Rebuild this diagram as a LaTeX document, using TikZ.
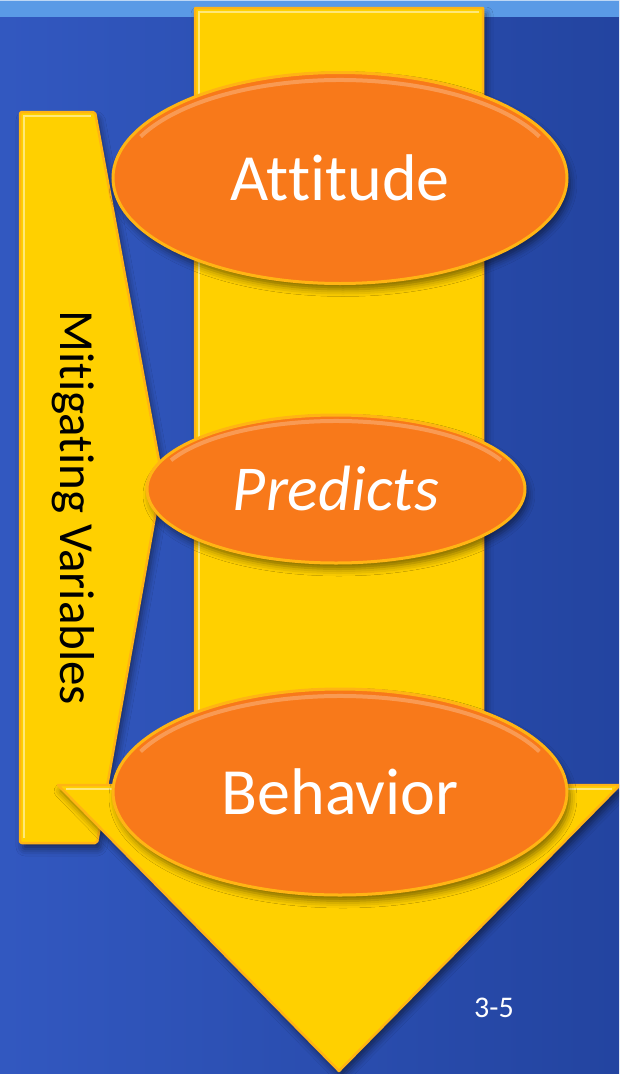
\documentclass[tikz,border=0pt]{standalone}
\usepackage{fontspec}
\setmainfont{Carlito}[Ligatures={NoCommon,NoRare}]
\usetikzlibrary{shapes.geometric,shadows.blur}

\definecolor{bgL}{RGB}{50,88,192}
\definecolor{bgR}{RGB}{35,68,160}
\definecolor{band}{RGB}{90,154,230}
\definecolor{gold}{RGB}{255,208,0}
\definecolor{goldedge}{RGB}{255,180,20}
\definecolor{goldlight}{RGB}{255,232,120}
\definecolor{orng}{RGB}{248,121,26}

\begin{document}
\begin{tikzpicture}[x=1pt,y=-1pt,
  goldshape/.style={fill=gold, draw=goldedge, line width=2.5pt, line join=round},
  castshadow/.style={blur shadow={shadow xshift=3pt, shadow yshift=-6pt,
      shadow blur radius=7pt, shadow opacity=50}},
  gleam/.style={draw=goldlight, line width=2pt},
  oval/.style={ellipse, fill=orng, draw=goldedge, line width=3pt, text=white, inner sep=0pt},
  glow/.style={draw=white, opacity=.25, line width=4pt}
]
\useasboundingbox (0,0) rectangle (619,1074);
\clip (0,0) rectangle (619,1074);

% slide background and top band
\shade[left color=bgL, right color=bgR] (0,0) rectangle (619,1074);
\fill[band] (0,0) rectangle (619,17);
\draw[white!60!band, line width=1pt] (0,0.5) -- (619,0.5);

% callout bar on the left
\path[goldshape, castshadow, rounded corners=2pt]
  (20,112) -- (95,112) -- (162,477) -- (97,843) -- (20,843) -- cycle;
\draw[gleam] (24,838) -- (24,116) -- (91,116);
\node[rotate=-90, font=\fontsize{49}{49}\selectfont] (mv) at (73,508) {Mitigating Variables};

% large downward arrow
\path[goldshape, castshadow]
  (195,8) -- (483,8) -- (483,785) -- (620,785) -- (339,1071) -- (58,785) -- (195,785) -- cycle;
\draw[gleam] (199,781) -- (199,12) -- (479,12);
\draw[gleam] (66,789) -- (199,789);
\draw[gleam] (483,789) -- (612,789);

% ovals
\node[oval, castshadow, minimum width=454pt, minimum height=211pt] (att) at (340,178)
  {\fontsize{66}{66}\selectfont Attitude};
\draw[glow] (340,178) ++(205:220 and 98) arc[start angle=205, end angle=335, x radius=220, y radius=98];

\node[oval, castshadow, minimum width=378pt, minimum height=148pt] (pred) at (336,489)
  {\fontsize{64}{64}\selectfont\itshape Predicts};
\draw[glow] (336,489) ++(205:182 and 68) arc[start angle=205, end angle=335, x radius=182, y radius=68];

\node[oval, castshadow, minimum width=454pt, minimum height=206pt] (beh) at (340,792)
  {\fontsize{66}{66}\selectfont Behavior};
\draw[glow] (340,792) ++(205:220 and 96) arc[start angle=205, end angle=335, x radius=220, y radius=96];

% page number
\node[text=white, font=\fontsize{30}{30}\selectfont] (pg) at (494,1008) {3-5};
\end{tikzpicture}
\end{document}
